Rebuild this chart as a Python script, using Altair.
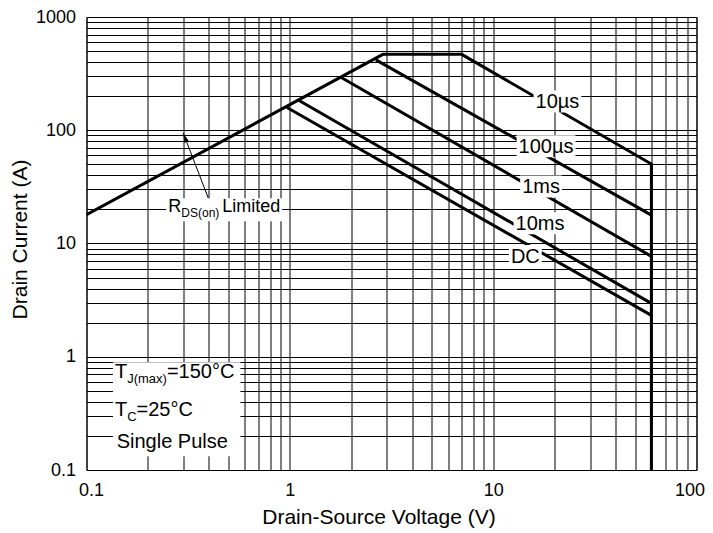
import json
import math
import altair as alt
import pandas as pd

# ---------------- values ----------------
X_TICK_LABELS = ["0.1", "1", "10", "100"]
Y_TICK_LABELS = ["0.1", "1", "10", "100", "1000"]
X_TITLE = "Drain-Source Voltage (V)"
Y_TITLE = "Drain Current (A)"
X_DOMAIN = [0.1, 100]
Y_DOMAIN = [0.1, 1000]

# SOA outline: RDS(on) limit -> 10us pulse plateau/slope -> VDS(max) limit
BOUND_V = [0.1, 2.87, 7.0, 60.0, 60.0]
BOUND_I = [18.0, 468.0, 468.0, 50.3, 0.1]

PULSE_NAMES = ["100µs", "1ms", "10ms", "DC"]
PULSE_V0 = [2.65, 1.79, 1.11, 0.968]
PULSE_I0 = [418.0, 292.0, 183.0, 159.0]
PULSE_V1 = [60.0, 60.0, 60.0, 60.0]
PULSE_I1 = [17.8, 7.7, 2.96, 2.32]

CURVE_LABELS = ["10µs", "100µs", "1ms", "10ms", "DC"]
CURVE_LABEL_V = [20.7, 18.2, 17.2, 17.0, 14.4]
CURVE_LABEL_I = [176.0, 70.6, 31.3, 14.8, 7.6]

RDS_PARTS = ["R", "DS(on)", "Limited"]       # main, subscript, main
RDS_V = 0.2525
RDS_I = 18.9
ARROW_V = [0.397, 0.2993]                       # tail, head
ARROW_I = [25.2, 94.3]

COND_LINES = [["T", "J(max)", "=150°C"], ["T", "C", "=25°C"], ["Single Pulse"]]
COND_V = [0.138, 0.138, 0.1408]
COND_I = [0.654, 0.301, 0.156]

# ---------------- layout ----------------
W, H = 610, 453
PXD_X = W / math.log10(X_DOMAIN[1] / X_DOMAIN[0])
PXD_Y = H / math.log10(Y_DOMAIN[1] / Y_DOMAIN[0])
FONT = "Liberation Sans"
MAIN_FS, SUB_FS = 20, 13
RDS_FS, RDS_SUB_FS = 18, 12

AW = {c: 556 for c in "0123456789aeondgu"}
AW.update({".": 278, "µ": 577, "s": 500, "m": 833, "D": 722, "C": 722, "S": 667,
           "(": 333, ")": 333, "L": 556, "i": 222, "t": 278, "R": 722, "T": 611,
           "J": 500, "x": 500, "=": 584, "°": 400, " ": 278, "l": 222, "P": 667})


def tw(s, fs):
    return sum(AW.get(c, 556) for c in s) * fs / 1000.0


def shift(v, i, dx, dy):
    return v * 10 ** (dx / PXD_X), i * 10 ** (-dy / PXD_Y)


def box_path(w, h):
    r = h / w
    return f"M-1,{-r:.4f}L1,{-r:.4f}L1,{r:.4f}L-1,{r:.4f}Z"


# ---------------- tables ----------------
rows = []
for k, (v, i) in enumerate(zip(BOUND_V, BOUND_I)):
    rows.append({"series": "SOA", "seq": k, "v": v, "i": i})
for n, v0, i0, v1, i1 in zip(PULSE_NAMES, PULSE_V0, PULSE_I0, PULSE_V1, PULSE_I1):
    rows.append({"series": n, "seq": 0, "v": v0, "i": i0})
    rows.append({"series": n, "seq": 1, "v": v1, "i": i1})
curves = pd.DataFrame(rows)

boxes = []
for lab, v, i in zip(CURVE_LABELS, CURVE_LABEL_V, CURVE_LABEL_I):
    bw, bh = tw(lab, MAIN_FS) + 4, 22
    cv, ci = shift(v, i, 0, -1)
    boxes.append({"v": cv, "i": ci, "path": box_path(bw, bh), "sz": bw * bw})
curve_text = pd.DataFrame({"v": CURVE_LABEL_V, "i": CURVE_LABEL_I, "text": CURVE_LABELS})

# text fragments (main / subscript) placed left to right
parts = []
cx = 0.0
for k, p in enumerate(RDS_PARTS):
    fs = RDS_SUB_FS if k == 1 else RDS_FS
    dy = 5 if k == 1 else 0
    if k == 2:
        cx += 3
    pv, pi = shift(RDS_V, RDS_I, cx, dy)
    parts.append({"v": pv, "i": pi, "text": p, "fs": fs})
    cx += tw(p, fs)
rds_w = cx
bv, bi = shift(RDS_V, RDS_I, rds_w / 2, -2.5)
boxes.append({"v": bv, "i": bi, "path": box_path(rds_w + 4, 23), "sz": (rds_w + 4) ** 2})

row_end = []
row_dy = []
for line, v, i in zip(COND_LINES, COND_V, COND_I):
    dx0 = math.log10(v / COND_V[0]) * PXD_X
    row_dy.append(-math.log10(i / COND_I[0]) * PXD_Y)
    cx = 0.0
    for k, p in enumerate(line):
        sub = (k == 1)
        fs = SUB_FS if sub else MAIN_FS
        pv, pi = shift(v, i, cx, 5 if sub else 0)
        parts.append({"v": pv, "i": pi, "text": p, "fs": fs})
        cx += tw(p, fs)
    row_end.append(dx0 + cx)
left, right = -2.0, max(row_end) + 6
top, bottom = -15.5, row_dy[-1] + 8
bv, bi = shift(COND_V[0], COND_I[0], (left + right) / 2, (top + bottom) / 2)
bw, bh = right - left, bottom - top
boxes.append({"v": bv, "i": bi, "path": box_path(bw, bh), "sz": bw * bw})

boxes = pd.DataFrame(boxes)
parts = pd.DataFrame(parts)

arrow = pd.DataFrame({"v": ARROW_V, "i": ARROW_I, "seq": [0, 1]})
adx = math.log10(ARROW_V[1] / ARROW_V[0]) * PXD_X
ady = -math.log10(ARROW_I[1] / ARROW_I[0]) * PXD_Y
alen = math.hypot(adx, ady)
ux, uy = adx / alen, ady / alen
angle = math.degrees(math.atan2(ux, -uy)) % 360
hv, hi = shift(ARROW_V[1], ARROW_I[1], -ux * 6, -uy * 6)
head = pd.DataFrame({"v": [hv], "i": [hi]})

# ---------------- axes ----------------
X_GRID = sorted({round(m * 10 ** k, 6) for k in range(-1, 2) for m in range(1, 10)} | {100.0})
Y_GRID = sorted({round(m * 10 ** k, 6) for k in range(-1, 3) for m in range(1, 10)} | {1000.0})


def label_expr(labels):
    return ("indexof(" + json.dumps(labels) + ", format(datum.value, '~g')) >= 0 ? "
            "format(datum.value, '~g') : ''")


common_axis = dict(grid=True, gridColor="black", gridWidth=1, gridOpacity=1, ticks=False,
                   domain=False, labelFontSize=18, labelColor="black", labelFont=FONT,
                   labelOverlap=False, labelBound=False,
                   titleFontSize=21, titleFontWeight="normal", titleColor="black",
                   titleFont=FONT, titleBaseline="alphabetic", titleAlign="center")

x_axis = alt.Axis(values=X_GRID, labelExpr=label_expr(X_TICK_LABELS), title=X_TITLE,
                  labelPadding=11, labelFlush=True, labelFlushOffset=8,
                  titleX=292, titleY=53, **common_axis)
y_axis = alt.Axis(values=Y_GRID, labelExpr=label_expr(Y_TICK_LABELS), title=Y_TITLE,
                  labelPadding=11, labelFlush=False,
                  titleX=-60, titleY=222, titleAngle=270, **common_axis)

XS = alt.Scale(type="log", domain=X_DOMAIN, nice=False)
YS = alt.Scale(type="log", domain=Y_DOMAIN, nice=False)


def X():
    return alt.X("v:Q", scale=XS, axis=x_axis)


def Y():
    return alt.Y("i:Q", scale=YS, axis=y_axis)


lines = alt.Chart(curves).mark_line(color="black", strokeWidth=3, clip=True).encode(
    x=X(), y=Y(), detail="series:N", order="seq:Q")

box_layer = alt.Chart(boxes).mark_point(filled=True, color="white", opacity=1,
                                        strokeWidth=0).encode(
    x=X(), y=Y(), shape=alt.Shape("path:N", scale=None),
    size=alt.Size("sz:Q", scale=None))

arrow_line = alt.Chart(arrow).mark_line(color="black", strokeWidth=1).encode(
    x=X(), y=Y(), order="seq:Q")
arrow_head = alt.Chart(head).mark_point(shape="M0,-1L0.4,0.6L-0.4,0.6Z", filled=True,
                                        color="black", opacity=1, size=144,
                                        angle=round(angle, 2), strokeWidth=0).encode(
    x=X(), y=Y())

curve_labels = alt.Chart(curve_text).mark_text(font=FONT, fontSize=MAIN_FS, color="black",
                                               align="center", baseline="middle").encode(
    x=X(), y=Y(), text="text:N")

part_labels = alt.Chart(parts).mark_text(font=FONT, color="black", align="left",
                                         baseline="alphabetic").encode(
    x=X(), y=Y(), text="text:N", size=alt.Size("fs:Q", scale=None))

chart = alt.layer(lines, box_layer, arrow_line, arrow_head, curve_labels, part_labels).properties(
    width=W, height=H,
    autosize=alt.AutoSizeParams(type="none"),
    padding={"left": 78.5, "top": 9, "right": 8.5, "bottom": 60},
).configure(font=FONT).configure_view(stroke="black", strokeWidth=1)

chart.save("out.html", embed_options={"renderer": "svg", "actions": False})
